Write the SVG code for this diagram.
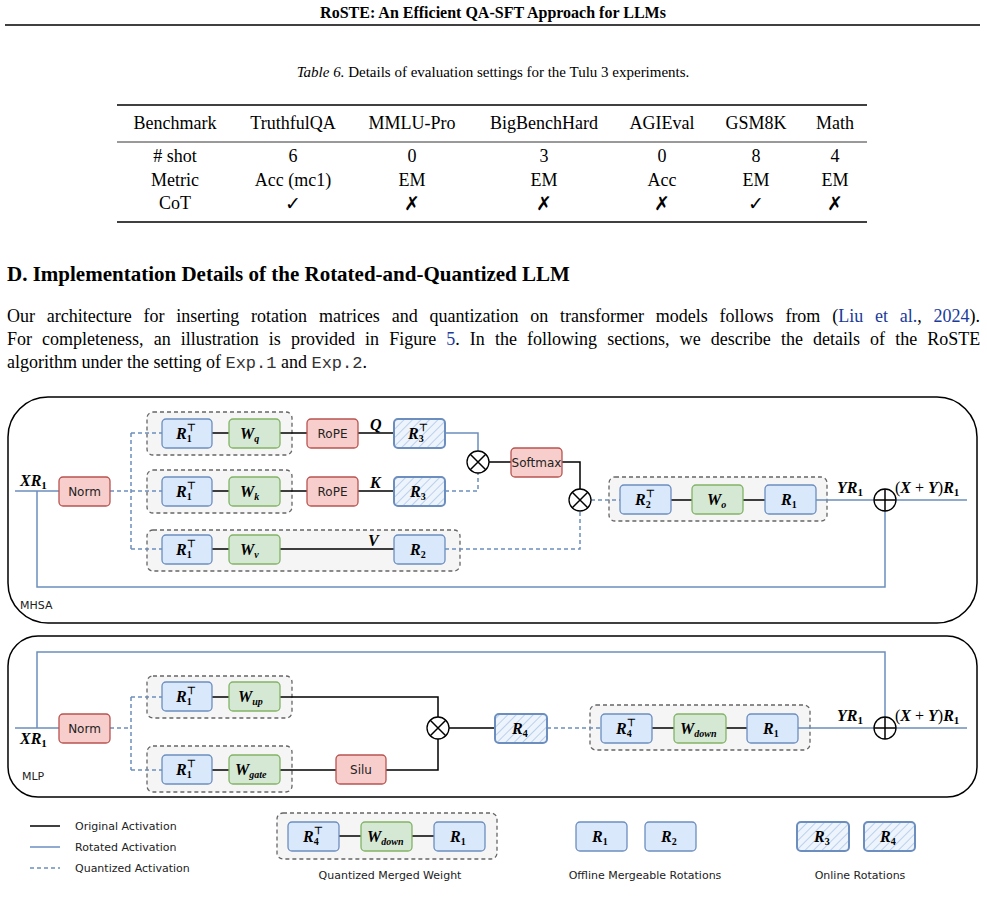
<svg xmlns="http://www.w3.org/2000/svg" width="987" height="917" viewBox="0 0 987 917">
<style>
.t{font-family:"Liberation Serif","Times New Roman",serif;fill:#000}
.s{font-family:"DejaVu Sans","Liberation Sans",sans-serif;fill:#222}
.m{font-family:"Liberation Serif",serif;font-weight:bold;font-style:italic;font-size:16px;fill:#000}
.b{fill:#dae8fc;stroke:#6c8ebf;stroke-width:1.3}
.g{fill:#d5e8d4;stroke:#82b366;stroke-width:1.3}
.r{fill:#f8cecc;stroke:#b85450;stroke-width:1.3}
.h{fill:url(#hat);stroke:#6c8ebf;stroke-width:2}
.grp{fill:#f5f5f5;stroke:#666;stroke-width:1.3;stroke-dasharray:4 3}
.k{fill:none;stroke:#000;stroke-width:1.5}
.bl{fill:none;stroke:#6c8ebf;stroke-width:1.5}
.dq{fill:none;stroke:#6c8ebf;stroke-width:1.5;stroke-dasharray:4 3}
.fr{fill:#fff;stroke:#000;stroke-width:1.5}
.op{fill:#fff;stroke:#000;stroke-width:1.3}
</style>
<defs>
<pattern id="hat" width="6" height="6" patternUnits="userSpaceOnUse" patternTransform="rotate(45)">
<rect width="6" height="6" fill="#eef4fc"/><line x1="0" y1="0" x2="0" y2="6" stroke="#a9c4e8" stroke-width="1.5"/>
</pattern>
</defs>
<rect width="987" height="917" fill="#fff"/>
<text class="t" x="493" y="18" font-size="16" font-weight="bold" text-anchor="middle">RoSTE: An Efficient QA-SFT Approach for LLMs</text>
<line x1="5" y1="25" x2="980" y2="25" stroke="#000" stroke-width="1.5"/>
<text class="t" x="493" y="77" font-size="15" text-anchor="middle"><tspan font-style="italic">Table 6.</tspan> Details of evaluation settings for the Tulu 3 experiments.</text>
<line x1="117" y1="105" x2="867" y2="105" stroke="#000" stroke-width="1.3"/>
<line x1="117" y1="142" x2="867" y2="142" stroke="#000" stroke-width="0.8"/>
<line x1="117" y1="222" x2="867" y2="222" stroke="#000" stroke-width="1.3"/>
<g class="t" font-size="18" text-anchor="middle">
<text x="175" y="129">Benchmark</text><text x="293" y="129">TruthfulQA</text><text x="412" y="129">MMLU-Pro</text><text x="544" y="129">BigBenchHard</text><text x="662" y="129">AGIEval</text><text x="756" y="129">GSM8K</text><text x="835" y="129">Math</text>
<text x="175" y="162">#&#160;shot</text><text x="293" y="162">6</text><text x="412" y="162">0</text><text x="544" y="162">3</text><text x="662" y="162">0</text><text x="756" y="162">8</text><text x="835" y="162">4</text>
<text x="175" y="186">Metric</text><text x="293" y="186">Acc (mc1)</text><text x="412" y="186">EM</text><text x="544" y="186">EM</text><text x="662" y="186">Acc</text><text x="756" y="186">EM</text><text x="835" y="186">EM</text>
<text x="175" y="209">CoT</text>
</g>
<g font-family="DejaVu Sans,sans-serif" font-size="19" text-anchor="middle">
<text x="293" y="210">✓</text><text x="412" y="210">✗</text><text x="544" y="210">✗</text><text x="662" y="210">✗</text><text x="756" y="210">✓</text><text x="835" y="210">✗</text>
</g>
<text class="t" x="7" y="281" font-size="21" font-weight="bold">D. Implementation Details of the Rotated-and-Quantized LLM</text>
<text class="t" x="7" y="322" font-size="18" word-spacing="7.3">Our architecture for inserting rotation matrices and quantization on transformer models follows from (<tspan fill="#1a3a9c">Liu et al.</tspan>, <tspan fill="#1a3a9c">2024</tspan>).</text>
<text class="t" x="7" y="345" font-size="18" word-spacing="5.6">For completeness, an illustration is provided in Figure <tspan fill="#1a3a9c">5</tspan>. In the following sections, we describe the details of the RoSTE</text>
<text class="t" x="7" y="368" font-size="18">algorithm under the setting of <tspan font-family="Liberation Mono,monospace" font-size="17" fill="#333">Exp.1</tspan> and <tspan font-family="Liberation Mono,monospace" font-size="17" fill="#333">Exp.2</tspan>.</text>

<g id="mhsa-frame"><rect class="fr" x="8" y="397" width="969" height="226" rx="40"/><text class="s" x="20" y="609" font-size="11">MHSA</text></g>
<g id="mlp-frame"><rect class="fr" x="8" y="636" width="969" height="161" rx="30"/><text class="s" x="22" y="780" font-size="11">MLP</text></g>

<g id="groups">
<rect class="grp" x="147" y="412" width="145" height="43" rx="6"/>
<rect class="grp" x="147" y="470" width="145" height="43" rx="6"/>
<rect class="grp" x="147" y="530" width="313" height="41" rx="6"/>
<rect class="grp" x="609" y="477" width="218" height="44" rx="6"/>
<rect class="grp" x="147" y="676" width="145" height="42" rx="6"/>
<rect class="grp" x="147" y="746" width="145" height="46" rx="6"/>
<rect class="grp" x="590" y="705" width="220" height="45" rx="6"/>
<rect class="grp" x="277" y="813" width="220" height="46" rx="6"/>
</g>

<g id="connectors">
<path class="bl" d="M15 491H59M37 491V587H885V511"/>
<path class="dq" d="M110 491H162M131 433V549M131 433H162M131 549H162"/>
<path class="k" d="M212 433H229M280 433H307M358 433H394M212 491H229M280 491H307M358 491H394M212 549H229M280 549H394"/>
<path class="bl" d="M445 433H478V451"/>
<path class="dq" d="M445 491H478V473"/>
<path class="k" d="M489 462H511M562 462H580V489"/>
<path class="dq" d="M445 549H580V511M591 500H620"/>
<path class="k" d="M671 500H692M743 500H765"/>
<path class="bl" d="M816 500H874M896 500H967"/>
<path class="bl" d="M15 728H59M37 728V652H885V717"/>
<path class="dq" d="M110 728H131M131 697V770M131 697H162M131 770H162"/>
<path class="k" d="M212 697H229M280 697H438V717M212 770H229M280 770H336M386 770H438V739M449 728H495"/>
<path class="dq" d="M547 728H601"/>
<path class="k" d="M652 728H674M726 728H747"/>
<path class="bl" d="M798 728H874M896 728H967"/>
<path class="k" d="M339 836H361M412 836H434"/>
<line x1="30" y1="826" x2="60" y2="826" stroke="#000" stroke-width="1.5"/>
<line x1="30" y1="847" x2="60" y2="847" stroke="#6c8ebf" stroke-width="1.5"/>
<line class="dq" x1="30" y1="868" x2="60" y2="868"/>
</g>

<g id="ops">
<g><circle class="op" cx="478" cy="462" r="11"/><path class="k" d="M470 454L486 470M486 454L470 470" stroke-width="1.2"/></g>
<g><circle class="op" cx="580" cy="500" r="11"/><path class="k" d="M572 492L588 508M588 492L572 508" stroke-width="1.2"/></g>
<g><circle class="op" cx="885" cy="500" r="11"/><path class="k" d="M874 500H896M885 489V511" stroke-width="1.2"/></g>
<g><circle class="op" cx="438" cy="728" r="11"/><path class="k" d="M430 720L446 736M446 720L430 736" stroke-width="1.2"/></g>
<g><circle class="op" cx="885" cy="728" r="11"/><path class="k" d="M874 728H896M885 717V739" stroke-width="1.2"/></g>
</g>

<g id="norm1"><rect class="r" x="59" y="477" width="51" height="29" rx="4"/><text class="s" x="84.5" y="496" font-size="12" text-anchor="middle">Norm</text></g>
<g id="r1tq"><rect class="b" x="162" y="419" width="50" height="29" rx="4"/><text class="m" x="176" y="439">R<tspan font-size="10" dy="3" font-style="normal">1</tspan><tspan font-size="10" dx="-5" dy="-11" font-style="normal">⊤</tspan></text></g>
<g id="wq"><rect class="g" x="229" y="419" width="51" height="29" rx="4"/><text class="m" x="240" y="439">W<tspan font-size="10" dy="3">q</tspan></text></g>
<g id="ropeq"><rect class="r" x="307" y="419" width="51" height="29" rx="4"/><text class="s" x="332.5" y="438" font-size="12" text-anchor="middle">RoPE</text></g>
<g id="r3t"><rect class="h" x="394" y="419" width="51" height="29" rx="4"/><text class="m" x="408" y="439">R<tspan font-size="10" dy="3" font-style="normal">3</tspan><tspan font-size="10" dx="-5" dy="-11" font-style="normal">⊤</tspan></text></g>
<text class="m" x="370" y="430">Q</text>
<g id="r1tk"><rect class="b" x="162" y="477" width="50" height="29" rx="4"/><text class="m" x="176" y="497">R<tspan font-size="10" dy="3" font-style="normal">1</tspan><tspan font-size="10" dx="-5" dy="-11" font-style="normal">⊤</tspan></text></g>
<g id="wk"><rect class="g" x="229" y="477" width="51" height="29" rx="4"/><text class="m" x="240" y="497">W<tspan font-size="10" dy="3">k</tspan></text></g>
<g id="ropek"><rect class="r" x="307" y="477" width="51" height="29" rx="4"/><text class="s" x="332.5" y="496" font-size="12" text-anchor="middle">RoPE</text></g>
<g id="r3"><rect class="h" x="394" y="477" width="51" height="29" rx="4"/><text class="m" x="410" y="497">R<tspan font-size="10" dy="3" font-style="normal">3</tspan></text></g>
<text class="m" x="370" y="488">K</text>
<g id="r1tv"><rect class="b" x="162" y="535" width="50" height="29" rx="4"/><text class="m" x="176" y="555">R<tspan font-size="10" dy="3" font-style="normal">1</tspan><tspan font-size="10" dx="-5" dy="-11" font-style="normal">⊤</tspan></text></g>
<g id="wv"><rect class="g" x="229" y="535" width="51" height="29" rx="4"/><text class="m" x="240" y="555">W<tspan font-size="10" dy="3">v</tspan></text></g>
<g id="r2"><rect class="b" x="394" y="535" width="51" height="29" rx="4"/><text class="m" x="410" y="555">R<tspan font-size="10" dy="3" font-style="normal">2</tspan></text></g>
<text class="m" x="368" y="546">V</text>
<g id="softmax"><rect class="r" x="511" y="448" width="51" height="29" rx="4"/><text class="s" x="536.5" y="467" font-size="12" text-anchor="middle">Softmax</text></g>
<g id="r2t"><rect class="b" x="620" y="485" width="51" height="29" rx="4"/><text class="m" x="635" y="505">R<tspan font-size="10" dy="3" font-style="normal">2</tspan><tspan font-size="10" dx="-5" dy="-11" font-style="normal">⊤</tspan></text></g>
<g id="wo"><rect class="g" x="692" y="485" width="51" height="29" rx="4"/><text class="m" x="707" y="505">W<tspan font-size="10" dy="3">o</tspan></text></g>
<g id="r1o"><rect class="b" x="765" y="485" width="51" height="29" rx="4"/><text class="m" x="781" y="505">R<tspan font-size="10" dy="3" font-style="normal">1</tspan></text></g>
<text class="m" x="20" y="486">XR<tspan font-size="11" dy="3" font-style="normal">1</tspan></text>
<text class="m" x="837" y="493">YR<tspan font-size="11" dy="3" font-style="normal">1</tspan></text>
<text class="m" x="895" y="493"><tspan font-style="normal" font-weight="normal">(</tspan>X<tspan font-style="normal" font-weight="normal"> + </tspan>Y<tspan font-style="normal" font-weight="normal">)</tspan>R<tspan font-size="11" dy="3" font-style="normal">1</tspan></text>

<g id="norm2"><rect class="r" x="59" y="714" width="51" height="29" rx="4"/><text class="s" x="84.5" y="733" font-size="12" text-anchor="middle">Norm</text></g>
<g id="r1tu"><rect class="b" x="162" y="682" width="50" height="29" rx="4"/><text class="m" x="176" y="702">R<tspan font-size="10" dy="3" font-style="normal">1</tspan><tspan font-size="10" dx="-5" dy="-11" font-style="normal">⊤</tspan></text></g>
<g id="wup"><rect class="g" x="229" y="682" width="51" height="29" rx="4"/><text class="m" x="238" y="702">W<tspan font-size="10" dy="3">up</tspan></text></g>
<g id="r1tg"><rect class="b" x="162" y="755" width="50" height="29" rx="4"/><text class="m" x="176" y="775">R<tspan font-size="10" dy="3" font-style="normal">1</tspan><tspan font-size="10" dx="-5" dy="-11" font-style="normal">⊤</tspan></text></g>
<g id="wgate"><rect class="g" x="229" y="755" width="51" height="29" rx="4"/><text class="m" x="235" y="775">W<tspan font-size="10" dy="3">gate</tspan></text></g>
<g id="silu"><rect class="r" x="336" y="755" width="50" height="29" rx="4"/><text class="s" x="361" y="774" font-size="12" text-anchor="middle">Silu</text></g>
<g id="r4"><rect class="h" x="495" y="714" width="52" height="29" rx="4"/><text class="m" x="512" y="734">R<tspan font-size="10" dy="3" font-style="normal">4</tspan></text></g>
<g id="r4t"><rect class="b" x="601" y="714" width="51" height="29" rx="4"/><text class="m" x="616" y="734">R<tspan font-size="10" dy="3" font-style="normal">4</tspan><tspan font-size="10" dx="-5" dy="-11" font-style="normal">⊤</tspan></text></g>
<g id="wdown"><rect class="g" x="674" y="714" width="52" height="29" rx="4"/><text class="m" x="680" y="734">W<tspan font-size="10" dy="3">down</tspan></text></g>
<g id="r1d"><rect class="b" x="747" y="714" width="51" height="29" rx="4"/><text class="m" x="763" y="734">R<tspan font-size="10" dy="3" font-style="normal">1</tspan></text></g>
<text class="m" x="20" y="744">XR<tspan font-size="11" dy="3" font-style="normal">1</tspan></text>
<text class="m" x="837" y="721">YR<tspan font-size="11" dy="3" font-style="normal">1</tspan></text>
<text class="m" x="895" y="721"><tspan font-style="normal" font-weight="normal">(</tspan>X<tspan font-style="normal" font-weight="normal"> + </tspan>Y<tspan font-style="normal" font-weight="normal">)</tspan>R<tspan font-size="11" dy="3" font-style="normal">1</tspan></text>

<g id="legend">
<text class="s" x="75" y="830" font-size="11">Original Activation</text>
<text class="s" x="75" y="851" font-size="11">Rotated Activation</text>
<text class="s" x="75" y="872" font-size="11">Quantized Activation</text>
<g><rect class="b" x="288" y="822" width="51" height="29" rx="4"/><text class="m" x="303" y="842">R<tspan font-size="10" dy="3" font-style="normal">4</tspan><tspan font-size="10" dx="-5" dy="-11" font-style="normal">⊤</tspan></text></g>
<g><rect class="g" x="361" y="822" width="51" height="29" rx="4"/><text class="m" x="367" y="842">W<tspan font-size="10" dy="3">down</tspan></text></g>
<g><rect class="b" x="434" y="822" width="51" height="29" rx="4"/><text class="m" x="450" y="842">R<tspan font-size="10" dy="3" font-style="normal">1</tspan></text></g>
<text class="s" x="390" y="879" font-size="11" text-anchor="middle">Quantized Merged Weight</text>
<g><rect class="b" x="576" y="822" width="51" height="29" rx="4"/><text class="m" x="592" y="842">R<tspan font-size="10" dy="3" font-style="normal">1</tspan></text></g>
<g><rect class="b" x="645" y="822" width="51" height="29" rx="4"/><text class="m" x="661" y="842">R<tspan font-size="10" dy="3" font-style="normal">2</tspan></text></g>
<text class="s" x="645" y="879" font-size="11" text-anchor="middle">Offline Mergeable Rotations</text>
<g><rect class="h" x="797" y="822" width="52" height="29" rx="4"/><text class="m" x="814" y="842">R<tspan font-size="10" dy="3" font-style="normal">3</tspan></text></g>
<g><rect class="h" x="864" y="822" width="51" height="29" rx="4"/><text class="m" x="880" y="842">R<tspan font-size="10" dy="3" font-style="normal">4</tspan></text></g>
<text class="s" x="860" y="879" font-size="11" text-anchor="middle">Online Rotations</text>
</g>
</svg>
